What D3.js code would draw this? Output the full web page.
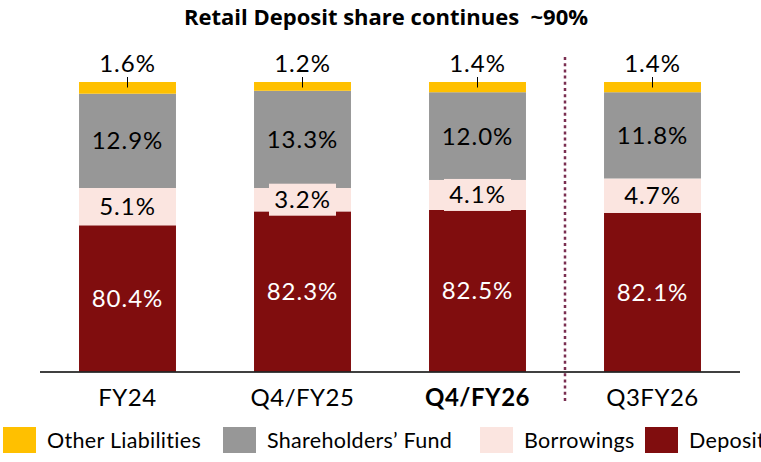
<!DOCTYPE html>
<html>
<head>
<meta charset="utf-8">
<script src="https://cdn.jsdelivr.net/npm/d3@7"></script>
<style>
  body { margin: 0; background: #fff; }
  text { font-family: Lato, "Open Sans", sans-serif; }
</style>
</head>
<body>
<div id="main"></div>
<script>
// data
const categories = ["FY24", "Q4/FY25", "Q4/FY26", "Q3FY26"];
const deposits = [80.4, 82.3, 82.5, 82.1];
const borrowings = [5.1, 3.2, 4.1, 4.7];
const shareholdersFund = [12.9, 13.3, 12.0, 11.8];
const otherLiabilities = [1.6, 1.2, 1.4, 1.4];
const seriesNames = ["Deposits", "Borrowings", "Shareholders\u2019 Fund", "Other Liabilities"];
const legendOrder = ["Other Liabilities", "Shareholders\u2019 Fund", "Borrowings", "Deposits"];
const highlighted = "Q4/FY26";

const ctx = {
    w: 761,
    h: 462,
    left: 40,
    right: 740,
    top: 82,
    base: 371.5,
    yMin: 60.4, // the slide's axis does not start at zero
    colors: {
        "Deposits": "#800d0e",
        "Borrowings": "#fbe5e0",
        "Shareholders\u2019 Fund": "#979797",
        "Other Liabilities": "#ffc000"
    },
    labelColors: {
        "Deposits": "#fff",
        "Borrowings": "#000",
        "Shareholders\u2019 Fund": "#000",
        "Other Liabilities": "#000"
    }
};

function buildRows(){
    return categories.map((c, i) => ({
        cat: c,
        "Deposits": deposits[i],
        "Borrowings": borrowings[i],
        "Shareholders\u2019 Fund": shareholdersFund[i],
        "Other Liabilities": otherLiabilities[i]
    }));
}

function drawBars(svg, rows){
    const x = d3.scaleBand().domain(categories)
        .range([ctx.left, ctx.right])
        .paddingInner(0.446).paddingOuter(0.223);
    const y = d3.scaleLinear().domain([ctx.yMin, 100])
        .range([ctx.base, ctx.top]).clamp(true);
    const stacked = d3.stack().keys(seriesNames)(rows);

    const layers = svg.append("g").selectAll("g")
        .data(stacked).enter().append("g")
        .attr("fill", d => ctx.colors[d.key]);
    layers.selectAll("rect")
        .data(d => d).enter().append("rect")
        .attr("x", d => x(d.data.cat))
        .attr("width", x.bandwidth())
        .attr("y", d => y(d[1]))
        .attr("height", d => y(d[0]) - y(d[1]));

    // labels inside segments (not the thin top one)
    const inner = stacked.filter(s => s.key != "Other Liabilities");
    inner.forEach(function(s){
        const g = svg.append("g");
        s.forEach(function(d){
            const cx = x(d.data.cat) + x.bandwidth() / 2;
            const cy = (y(d[0]) + y(d[1])) / 2;
            if (s.key == "Borrowings") {
                g.append("rect")
                    .attr("x", cx - 33.5).attr("y", cy - 16)
                    .attr("width", 67).attr("height", 32)
                    .attr("fill", ctx.colors[s.key]);
            }
            g.append("text")
                .attr("x", cx).attr("y", cy + 8.5)
                .attr("text-anchor", "middle")
                .attr("font-size", 24)
                .attr("letter-spacing", 1)
                .attr("fill", ctx.labelColors[s.key])
                .text(d.data[s.key].toFixed(1) + "%");
        });
    });

    // top labels with a small leader line
    const top = stacked.find(s => s.key == "Other Liabilities");
    const tg = svg.append("g");
    top.forEach(function(d){
        const cx = x(d.data.cat) + x.bandwidth() / 2;
        tg.append("line")
            .attr("x1", cx).attr("x2", cx)
            .attr("y1", y(d[1]) - 5).attr("y2", y(d[1]) + 5.5)
            .attr("stroke", "#000").attr("stroke-width", 1);
        tg.append("text")
            .attr("x", cx).attr("y", y(d[1]) - 10.5)
            .attr("text-anchor", "middle")
            .attr("font-size", 24)
            .attr("letter-spacing", 1)
            .text(d.data["Other Liabilities"].toFixed(1) + "%");
    });

    // dotted separator before the last quarter
    const sepX = (x(categories[2]) + x.bandwidth() + x(categories[3])) / 2;
    svg.append("line")
        .attr("x1", sepX).attr("x2", sepX)
        .attr("y1", 57).attr("y2", 404)
        .attr("stroke", "#7a2e50").attr("stroke-width", 2.5)
        .attr("stroke-dasharray", "3,3.2");

    // baseline
    svg.append("line")
        .attr("x1", ctx.left).attr("x2", ctx.right)
        .attr("y1", ctx.base + 0.5).attr("y2", ctx.base + 0.5)
        .attr("stroke", "#000").attr("stroke-width", 1.6);

    svg.append("g").selectAll("text")
        .data(categories).enter().append("text")
        .attr("x", d => x(d) + x.bandwidth() / 2)
        .attr("y", 406)
        .attr("text-anchor", "middle")
        .attr("font-size", 24)
        .attr("letter-spacing", 0.5)
        .attr("font-weight", d => d == highlighted ? "bold" : "normal")
        .text(d => d);
}

function drawLegend(svg){
    const legendX = [3, 223, 480, 645];
    const items = svg.append("g").selectAll("g")
        .data(legendOrder).enter().append("g")
        .attr("transform", (d, i) => `translate(${legendX[i]},427)`);
    items.append("rect")
        .attr("width", 33).attr("height", 26)
        .attr("fill", d => ctx.colors[d]);
    items.append("text")
        .attr("x", 44).attr("y", 20.5)
        .attr("font-size", 21.5)
        .attr("letter-spacing", 0.3)
        .text(d => d);
}

function createViz(){
    let svg = d3.select("#main").append("svg")
        .attr("width", ctx.w).attr("height", ctx.h);
    svg.append("text")
        .attr("x", 386).attr("y", 24.5)
        .attr("text-anchor", "middle")
        .attr("font-size", 22)
        .attr("font-weight", "bold")
        .style("font-family", "'Open Sans', sans-serif")
        .style("white-space", "pre")
        .text("Retail Deposit share continues  ~90%");
    drawBars(svg, buildRows());
    drawLegend(svg);
}

createViz();
</script>
</body>
</html>
